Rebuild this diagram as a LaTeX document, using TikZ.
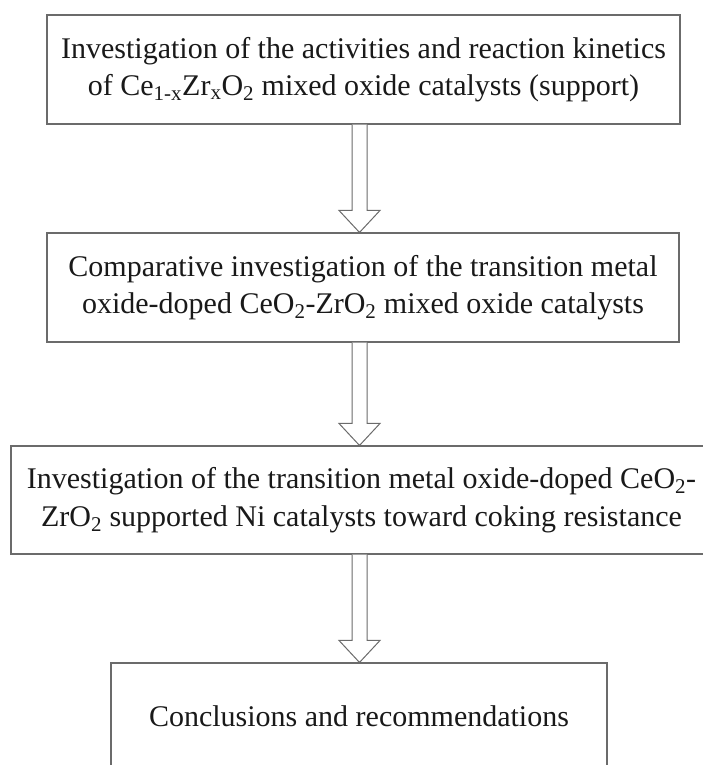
\documentclass[tikz,border=0pt]{standalone}
\usepackage{fontspec}
\setmainfont{Liberation Serif}
\usetikzlibrary{calc}
\definecolor{linegray}{gray}{0.42}
\definecolor{textdark}{gray}{0.1}
\tikzset{
  stepbox/.style={draw=linegray, line width=1.1pt, rectangle, inner sep=0pt,
    align=center, text=textdark,
    font=\fontsize{30}{37.5}\selectfont},
  hollowarrow/.style={draw=linegray, line width=1pt, fill=white, line join=miter}
}
\begin{document}
\begin{tikzpicture}[x=1pt,y=-1pt]
\useasboundingbox (0,0) rectangle (702,765);
\node[stepbox, minimum width=633pt, minimum height=109pt] (b1) at (363.5,69.5)
  {Investigation of the activities and reaction kinetics\\
   of Ce\textsubscript{1-x}Zr\textsubscript{x}O\textsubscript{2} mixed oxide catalysts (support)};
\node[stepbox, minimum width=632pt, minimum height=109pt] (b2) at (363,287.5)
  {Comparative investigation of the transition metal\\
   oxide-doped CeO\textsubscript{2}-ZrO\textsubscript{2} mixed oxide catalysts};
\node[stepbox, minimum width=701pt, minimum height=108pt] (b3) at (361.5,500)
  {Investigation of the transition metal oxide-doped CeO\textsubscript{2}-\\
   ZrO\textsubscript{2} supported Ni catalysts toward coking resistance};
\node[stepbox, minimum width=496pt, minimum height=106pt] (b4) at (359,716)
  {Conclusions and recommendations};
\coordinate (ax) at (359.5,0);
\foreach \a/\b in {b1/b2, b2/b3, b3/b4}{
  \draw[hollowarrow]
    ($(\a.south -| ax)+(-7.5,0)$) -- ($(\b.north -| ax)+(-7.5,-22)$)
    -- ($(\b.north -| ax)+(-20.5,-22)$) -- (\b.north -| ax)
    -- ($(\b.north -| ax)+(20.5,-22)$) -- ($(\b.north -| ax)+(7.5,-22)$)
    -- ($(\a.south -| ax)+(7.5,0)$);
}
\end{tikzpicture}
\end{document}
